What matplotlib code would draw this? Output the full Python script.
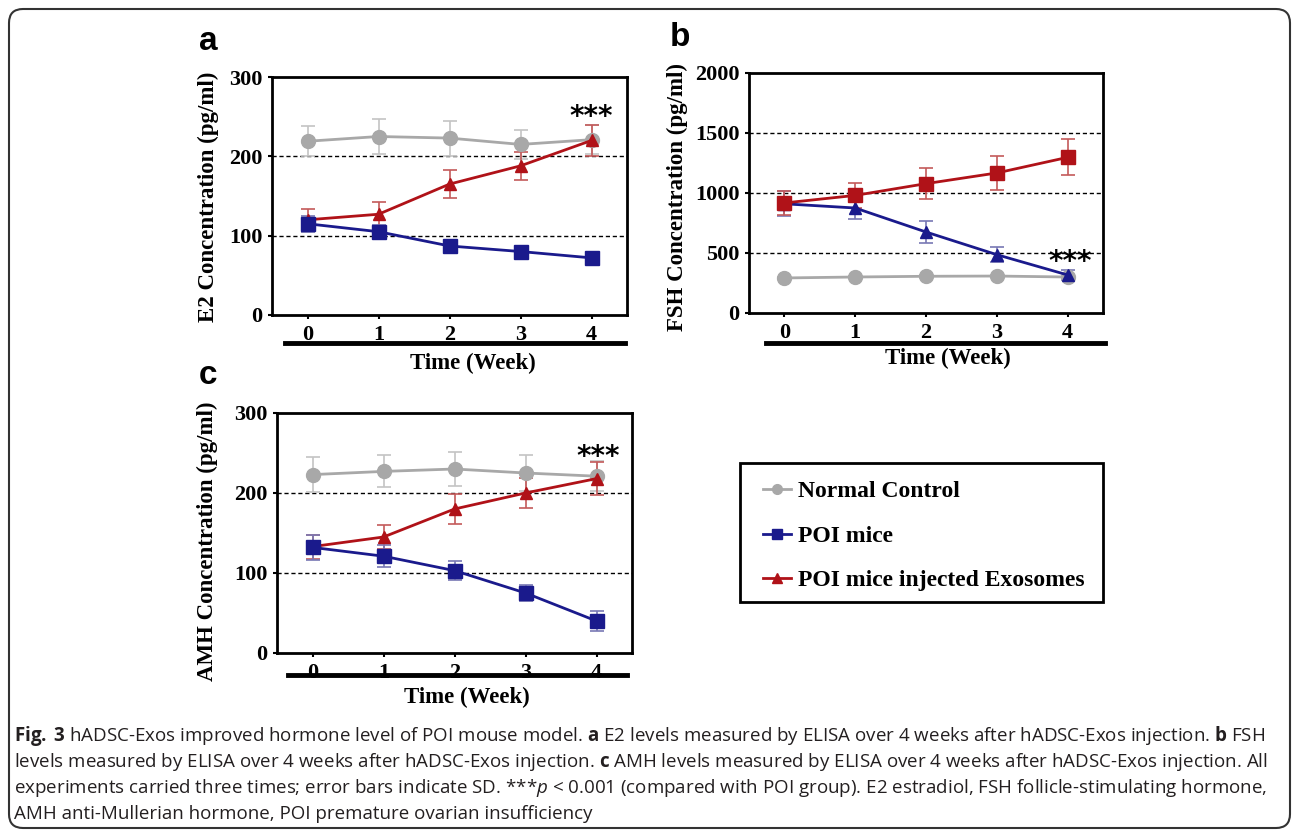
import matplotlib
matplotlib.use('Agg')
import matplotlib.pyplot as plt
from matplotlib.lines import Line2D
from matplotlib.patches import FancyBboxPatch, Rectangle
from matplotlib.transforms import IdentityTransform

weeks = [0, 1, 2, 3, 4]

# a - E2 (pg/ml)
e2_normal = [219, 225, 223, 215, 221]
e2_normal_sd = [19, 22, 22, 18, 18]
e2_poi = [115, 105, 87, 80, 72]
e2_poi_sd = [10, 9, 5, 6, 4]
e2_exo = [120, 127, 165, 188, 220]
e2_exo_sd = [14, 15, 18, 18, 19]

# b - FSH (pg/ml), red squares rising, blue triangles falling as drawn
fsh_normal = [292, 300, 306, 308, 300]
fsh_normal_sd = [12, 12, 12, 12, 12]
fsh_red = [917, 980, 1078, 1167, 1297]
fsh_red_sd = [100, 105, 128, 140, 150]
fsh_blue = [910, 875, 675, 486, 317]
fsh_blue_sd = [105, 92, 92, 60, 45]

# c - AMH (pg/ml)
amh_normal = [223, 227, 230, 225, 221]
amh_normal_sd = [22, 20, 21, 22, 19]
amh_poi = [132, 121, 103, 75, 40]
amh_poi_sd = [16, 14, 12, 10, 12]
amh_exo = [133, 145, 180, 200, 218]
amh_exo_sd = [15, 15, 19, 19, 21]

legend_labels = ['Normal Control', 'POI mice', 'POI mice injected Exosomes']

caption_lines = [
    r'$\mathbf{Fig.\;3}$ hADSC-Exos improved hormone level of POI mouse model. $\mathbf{a}$ E2 levels measured by ELISA over 4 weeks after hADSC-Exos injection. $\mathbf{b}$ FSH',
    r'levels measured by ELISA over 4 weeks after hADSC-Exos injection. $\mathbf{c}$ AMH levels measured by ELISA over 4 weeks after hADSC-Exos injection. All',
    r'experiments carried three times; error bars indicate SD. ***$\mathit{p}$ < 0.001 (compared with POI group). E2 estradiol, FSH follicle-stimulating hormone,',
    r'AMH anti-Mullerian hormone, POI premature ovarian insufficiency',
]

GRAY = '#A8A8A8'
BLUE = '#1A1A8C'
RED = '#B01218'
serif = 'Liberation Serif'

plt.rcParams['mathtext.fontset'] = 'custom'
plt.rcParams['mathtext.rm'] = 'Open Sans'
plt.rcParams['mathtext.it'] = 'Open Sans:italic'
plt.rcParams['mathtext.bf'] = 'Open Sans:bold'

W, H = 1292, 831
fig = plt.figure(figsize=(W / 100, H / 100), dpi=100)


def fx(x):
    return x / W


def fy(y):
    return 1 - y / H


def series(ax, y, sd, color, ecolor, marker, ms):
    ax.errorbar(weeks, y, yerr=sd, color=color, ecolor=ecolor, marker=marker,
                ms=ms, mec=color, lw=2, elinewidth=1.2, capsize=5,
                capthick=1.2, zorder=3)


def panel(box, ylim, yticks, ylabel, letter, ylab_x, ylab_y, letter_xy,
          bar, time_xy):
    l, t, r, b = box
    ax = fig.add_axes([fx(l), fy(b), (r - l) / W, (b - t) / H])
    ax.set_xlim(-0.5, 4.5)
    ax.set_ylim(*ylim)
    ax.set_yticks(yticks)
    ax.set_xticks(weeks)
    for s in ax.spines.values():
        s.set_linewidth(2)
    ax.tick_params(direction='out', length=3, width=1.5, pad=4,
                   labelsize=16)
    for lab in ax.get_xticklabels() + ax.get_yticklabels():
        lab.set_family(serif)
        lab.set_fontweight('bold')
    for v in yticks[1:-1]:
        ax.axhline(v, color='black', lw=1, ls=(0, (3, 2)), zorder=1)
    fig.text(fx(ylab_x), fy(ylab_y), ylabel, rotation=90, ha='center',
             va='center', family=serif, fontweight='bold', fontsize=16.5)
    fig.text(fx(letter_xy[0]), fy(letter_xy[1]), letter, ha='center',
             va='center', family='Liberation Sans', fontweight='bold',
             fontsize=24)
    fig.add_artist(Line2D([fx(bar[0]), fx(bar[1])], [fy(bar[2]), fy(bar[2])],
                          color='black', lw=3.5))
    fig.text(fx(time_xy[0]), fy(time_xy[1]), 'Time (Week)', ha='center',
             va='center', family=serif, fontweight='bold', fontsize=16.5)
    return ax


ax_a = panel((272, 77, 627, 315), (0, 300), [0, 100, 200, 300],
             'E2 Concentration (pg/ml)', 'a', 208, 197, (208, 42),
             (285, 625, 343), (473, 363))
series(ax_a, e2_normal, e2_normal_sd, GRAY, '#C4C4C4', 'o', 10)
series(ax_a, e2_exo, e2_exo_sd, RED, '#C45A5A', '^', 9)
series(ax_a, e2_poi, e2_poi_sd, BLUE, '#7878B4', 's', 10)
ax_a.text(4.0, 250, '***', ha='center', va='center', fontsize=20,
          fontweight='bold', family='DejaVu Sans')

ax_b = panel((749, 73, 1103, 313), (0, 2000), [0, 500, 1000, 1500, 2000],
             'FSH Concentration (pg/ml)', 'b', 677, 197, (680, 37),
             (766, 1105, 343), (948, 358))
series(ax_b, fsh_normal, fsh_normal_sd, GRAY, '#C4C4C4', 'o', 10)
series(ax_b, fsh_blue, fsh_blue_sd, BLUE, '#7878B4', '^', 9)
series(ax_b, fsh_red, fsh_red_sd, RED, '#C45A5A', 's', 10)
ax_b.text(4.03, 425, '***', ha='center', va='center', fontsize=20,
          fontweight='bold', family='DejaVu Sans')

ax_c = panel((277, 413, 632, 653), (0, 300), [0, 100, 200, 300],
             'AMH Concentration (pg/ml)', 'c', 207, 541, (208, 375),
             (288, 627, 675), (467, 697))
series(ax_c, amh_normal, amh_normal_sd, GRAY, '#C4C4C4', 'o', 10)
series(ax_c, amh_exo, amh_exo_sd, RED, '#C45A5A', '^', 9)
series(ax_c, amh_poi, amh_poi_sd, BLUE, '#7878B4', 's', 10)
ax_c.text(4.02, 245, '***', ha='center', va='center', fontsize=20,
          fontweight='bold', family='DejaVu Sans')

# legend
handles = [Line2D([], [], color=GRAY, marker='o', ms=7, lw=2),
           Line2D([], [], color=BLUE, marker='s', ms=7, lw=2),
           Line2D([], [], color=RED, marker='^', ms=7, lw=2)]
fig.legend(handles, legend_labels, loc='center left',
           bbox_to_anchor=(fx(763), fy(536)), frameon=False,
           prop={'family': serif, 'weight': 'bold', 'size': 17},
           handlelength=1.2, handletextpad=0.3, labelspacing=0.97,
           borderpad=0, borderaxespad=0)
fig.add_artist(Rectangle((fx(740), fy(602)), (1103 - 740) / W, (602 - 463) / H,
                         fill=False, ec='black', lw=2))

# caption
for i, line in enumerate(caption_lines):
    fig.text(fx(14), fy(736 + 26 * i), line, ha='left', va='center',
             family='Open Sans', fontsize=13.5, color='#231F20')

# outer rounded frame (pixel coords)
frame = FancyBboxPatch((9, 3), 1281, H - 12,
                       boxstyle='round,pad=0,rounding_size=14',
                       fill=False, ec='#333333', lw=1.5,
                       transform=IdentityTransform())
fig.add_artist(frame)

fig.savefig('out.png', dpi=100)
